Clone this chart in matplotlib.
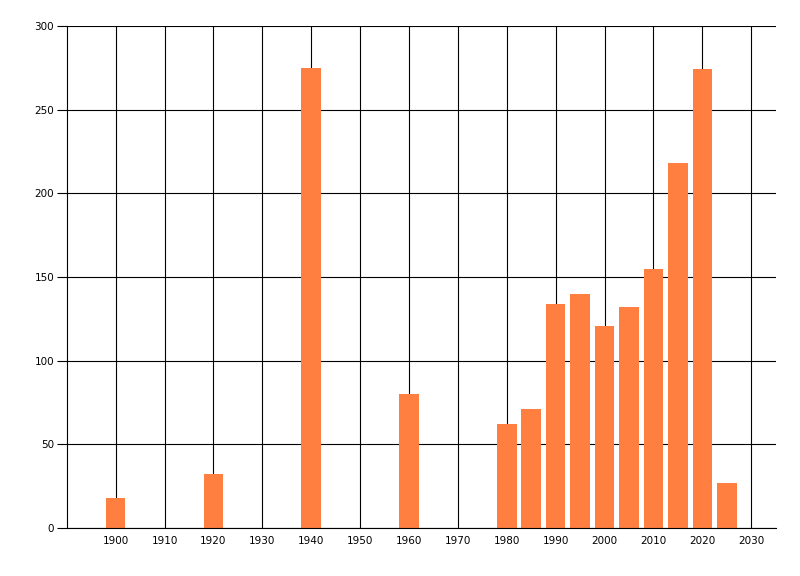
import matplotlib
matplotlib.use("Agg")
import matplotlib.pyplot as plt

years = [1900, 1920, 1940, 1960, 1980, 1985, 1990, 1995, 2000, 2005, 2010, 2015, 2020, 2025]
values = [18, 32, 275, 80, 62, 71, 134, 140, 121, 132, 155, 218, 274, 27]
x_ticks = list(range(1900, 2031, 10))
y_ticks = [0, 50, 100, 150, 200, 250, 300]

fig = plt.figure(figsize=(8, 5.76), dpi=100)
ax = fig.add_axes([0.0834, 0.0833, 0.9696 - 0.0834, 0.9549 - 0.0833])
ax.set_axisbelow(True)
ax.bar(years, values, width=4, color="#FF7F40", zorder=2)
ax.set_xlim(1890, 2035)
ax.set_ylim(0, 300)
ax.set_xticks(x_ticks)
ax.set_yticks(y_ticks)
ax.grid(True, color="black", linewidth=0.8)
for s in ["top", "right"]:
    ax.spines[s].set_visible(False)
for s in ["left", "bottom"]:
    ax.spines[s].set_linewidth(0.8)
ax.tick_params(axis="y", length=7, width=0.8, labelsize=7.5, pad=2)
ax.tick_params(axis="x", length=0, labelsize=7.5, pad=6)
for lab in ax.get_xticklabels() + ax.get_yticklabels():
    lab.set_fontfamily("DejaVu Sans")
fig.savefig("out.png", dpi=100)
